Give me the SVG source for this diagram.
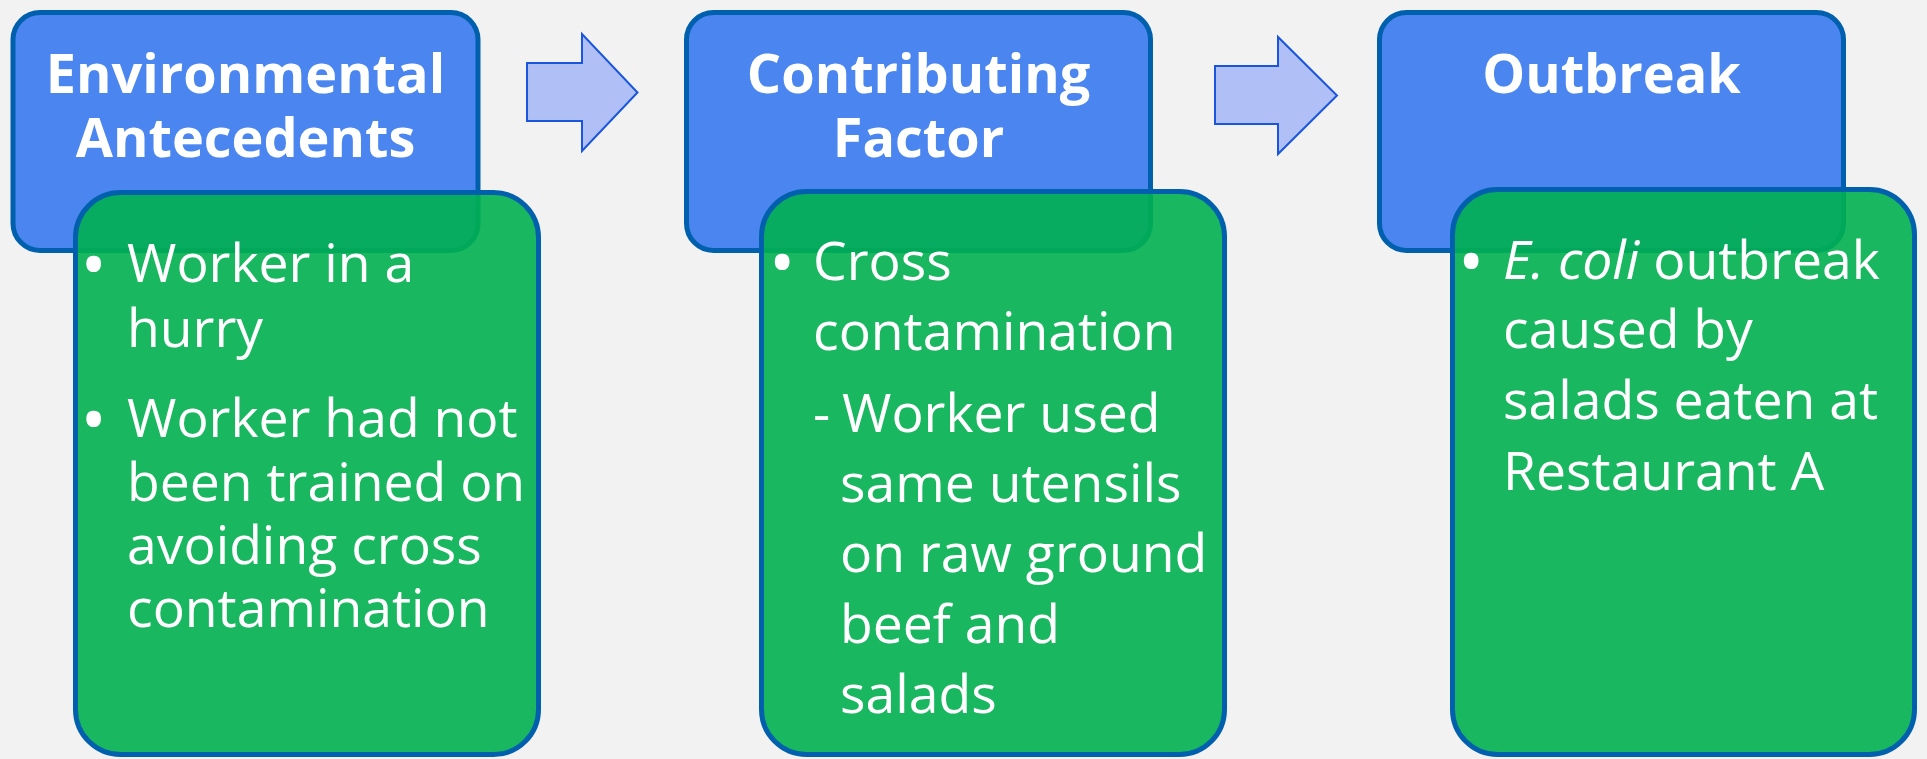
<svg xmlns="http://www.w3.org/2000/svg" width="1927" height="759" viewBox="0 0 1927 759">
<style>
.bg{fill:#F2F2F2}
.head{fill:#4A85F0;stroke:#0060AD;stroke-width:5}
.det{fill:#00B050;fill-opacity:0.9;stroke:#0060AD;stroke-width:5}
.arrow{fill:#B0C0F6;stroke:#1A56DB;stroke-width:2;stroke-linejoin:miter}
.ht{font-family:"Open Sans","Liberation Sans",sans-serif;font-weight:bold;font-size:54px;fill:#FFFFFF;text-anchor:middle}
.bt{font-family:"Open Sans","Liberation Sans",sans-serif;font-size:53.5px;fill:#FFFFFF}
.bu{font-family:"Open Sans","Liberation Sans",sans-serif;font-size:70px;fill:#FFFFFF}
.it{font-style:italic}
</style>
<rect class="bg" x="0" y="0" width="1927" height="759"/>
<g id="connectors">
<polygon class="arrow" points="527,63 582,63 582,34 637.5,92.5 582,151 582,121 527,121"/>
<polygon class="arrow" points="1215,66 1278,66 1278,37 1337,95.5 1278,154 1278,124 1215,124"/>
</g>
<g id="node-environmental-antecedents">
<rect class="head" x="13" y="12.5" width="465" height="238" rx="27"/>
<text class="ht" x="245.5" y="93">Environmental<tspan x="245.5" y="157">Antecedents</tspan></text>
</g>
<g id="node-environmental-details">
<rect class="det" x="75.5" y="192.5" width="463" height="562" rx="45"/>
<text class="bu" x="80.5" y="289">•</text>
<text class="bt" x="127" y="282">Worker in a<tspan x="127" y="346.5">hurry</tspan></text>
<text class="bu" x="80.5" y="444">•</text>
<text class="bt" x="127" y="437">Worker had not<tspan x="127" y="501">been trained on</tspan><tspan x="127" y="564">avoiding cross</tspan><tspan x="127" y="627">contamination</tspan></text>
</g>
<g id="node-contributing-factor">
<rect class="head" x="686.5" y="12.5" width="464" height="238" rx="27"/>
<text class="ht" x="918.5" y="93">Contributing<tspan x="918.5" y="157">Factor</tspan></text>
</g>
<g id="node-contributing-details">
<rect class="det" x="761.5" y="191.5" width="463" height="563" rx="45"/>
<text class="bu" x="769" y="287">•</text>
<text class="bt" x="813" y="280">Cross<tspan x="813" y="350">contamination</tspan></text>
<text class="bt" x="813" y="432">-<tspan x="842" y="432">Worker used</tspan><tspan x="840" y="502">same utensils</tspan><tspan x="840" y="572">on raw ground</tspan><tspan x="840" y="643">beef and</tspan><tspan x="840" y="713">salads</tspan></text>
</g>
<g id="node-outbreak">
<rect class="head" x="1379.5" y="12.5" width="464" height="238" rx="27"/>
<text class="ht" x="1611.5" y="93">Outbreak</text>
</g>
<g id="node-outbreak-details">
<rect class="det" x="1452.5" y="189.5" width="462" height="565" rx="45"/>
<text class="bu" x="1458" y="286">•</text>
<text class="bt" x="1503" y="279"><tspan class="it">E. coli</tspan> outbreak<tspan x="1503" y="348">caused by</tspan><tspan x="1503" y="419">salads eaten at</tspan><tspan x="1503" y="490">Restaurant A</tspan></text>
</g>
</svg>
